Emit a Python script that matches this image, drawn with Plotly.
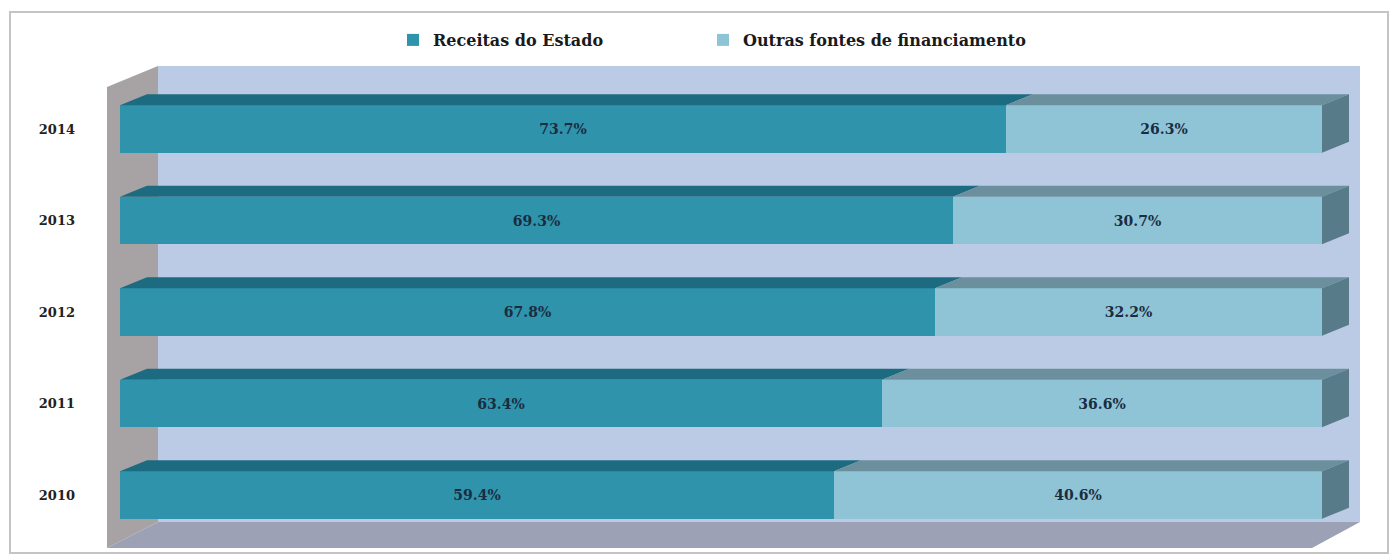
import plotly.graph_objects as go

# ---- data ----
years = ["2010", "2011", "2012", "2013", "2014"]
receitas_estado = [59.4, 63.4, 67.8, 69.3, 73.7]
outras_fontes = [40.6, 36.6, 32.2, 30.7, 26.3]
series_names = ["Receitas do Estado", "Outras fontes de financiamento"]

# ---- layout constants (pixels) ----
W, H = 1394, 556
ML, MR, MT, MB = 100, 14, 60, 4
X0PX, XSCALE = 120, 12.02          # px of value 0, px per unit
Y0PX, YSCALE = 495, 91.5           # px of first category, px per category
BAR_W = 0.52
DX_PX, DY_PX = 27, 11              # 3D depth offset

def X(px):
    return (px - X0PX) / XSCALE

def Y(py):
    return (Y0PX - py) / YSCALE

pos = list(range(len(years)))
dxu = DX_PX / XSCALE
dyu = DY_PX / YSCALE

C_LEFT = "#2f93ab"
C_LEFT_TOP = "#1c6b80"
C_RIGHT = "#8fc4d6"
C_RIGHT_TOP = "#6b8f9c"
C_RIGHT_SIDE = "#587b89"
TXT = "#1a2c42"
FONT = "DejaVu Serif"

fig = go.Figure()
fig.add_trace(go.Bar(
    y=pos, x=receitas_estado, orientation="h", name=series_names[0],
    marker=dict(color=C_LEFT, line=dict(width=0)), width=BAR_W,
    text=[f"{v:.1f}%" for v in receitas_estado], textposition="inside",
    insidetextanchor="middle", textangle=0,
    textfont=dict(family=FONT, size=14, color=TXT, weight="bold"),
    hoverinfo="skip", legend="legend"))
fig.add_trace(go.Bar(
    y=pos, x=outras_fontes, base=receitas_estado, orientation="h",
    name=series_names[1],
    marker=dict(color=C_RIGHT, line=dict(width=0)), width=BAR_W,
    text=[f"{v:.1f}%" for v in outras_fontes], textposition="inside",
    insidetextanchor="middle", textangle=0,
    textfont=dict(family=FONT, size=14, color=TXT, weight="bold"),
    hoverinfo="skip", legend="legend2"))

def poly(pts):
    return "M " + " L ".join(f"{x},{y}" for x, y in pts) + " Z"

shapes = []
# walls (decoration)
shapes.append(dict(type="path", xref="x", yref="y", layer="below",
                   path=poly([(X(158), Y(66)), (X(1360), Y(66)), (X(1360), Y(522)), (X(158), Y(522))]),
                   fillcolor="#bccbe5", line=dict(width=0)))
shapes.append(dict(type="path", xref="x", yref="y", layer="below",
                   path=poly([(X(107), Y(87)), (X(158), Y(66)), (X(158), Y(522)), (X(107), Y(548))]),
                   fillcolor="#a7a2a3", line=dict(width=0)))
shapes.append(dict(type="path", xref="x", yref="y", layer="below",
                   path=poly([(X(107), Y(548)), (X(158), Y(522)), (X(1360), Y(522)), (X(1312), Y(548))]),
                   fillcolor="#9ca1b5", line=dict(width=0)))

# 3D faces of the bars, derived from the data
for i, (a, b) in enumerate(zip(receitas_estado, outras_fontes)):
    yt = i + BAR_W / 2
    yb = i - BAR_W / 2
    tot = a + b
    shapes.append(dict(type="path", xref="x", yref="y", layer="above",
                       path=poly([(0, yt), (dxu, yt + dyu), (a + dxu, yt + dyu), (a, yt)]),
                       fillcolor=C_LEFT_TOP, line=dict(width=0)))
    shapes.append(dict(type="path", xref="x", yref="y", layer="above",
                       path=poly([(a, yt), (a + dxu, yt + dyu), (tot + dxu, yt + dyu), (tot, yt)]),
                       fillcolor=C_RIGHT_TOP, line=dict(width=0)))
    shapes.append(dict(type="path", xref="x", yref="y", layer="above",
                       path=poly([(tot, yt), (tot + dxu, yt + dyu), (tot + dxu, yb + dyu), (tot, yb)]),
                       fillcolor=C_RIGHT_SIDE, line=dict(width=0)))

# outer frame
pw = W - ML - MR
ph = H - MT - MB
shapes.append(dict(type="rect", xref="paper", yref="paper",
                   x0=(10 - ML) / pw, x1=(1388 - ML) / pw,
                   y0=(H - MB - 553) / ph, y1=(H - MB - 12) / ph,
                   line=dict(color="#c4c4c4", width=2), fillcolor="rgba(0,0,0,0)",
                   layer="below"))

legend_common = dict(orientation="h", xanchor="left",
                     y=(H - MB - 40) / ph, yanchor="middle",
                     font=dict(family=FONT, size=16, color="#1a1a1a", weight="bold"),
                     bgcolor="rgba(0,0,0,0)")

fig.update_layout(
    width=W, height=H,
    margin=dict(l=ML, r=MR, t=MT, b=MB, autoexpand=False),
    paper_bgcolor="white", plot_bgcolor="white",
    barmode="stack", bargap=0,
    shapes=shapes,
    showlegend=True,
    legend=dict(x=(393 - ML) / pw, **legend_common),
    legend2=dict(x=(703 - ML) / pw, **legend_common),
    xaxis=dict(range=[X(ML), X(W - MR)], visible=False, showgrid=False, zeroline=False),
    yaxis=dict(range=[Y(H - MB), Y(MT)], tickvals=pos, ticktext=years,
               showgrid=False, zeroline=False, showline=False, ticks="",
               ticklabelstandoff=24,
               tickfont=dict(family=FONT, size=13, color="#222222", weight="bold")),
)

fig.write_html("out.html", post_script="document.body.style.margin='0px';",
               config={"displayModeBar": False})
